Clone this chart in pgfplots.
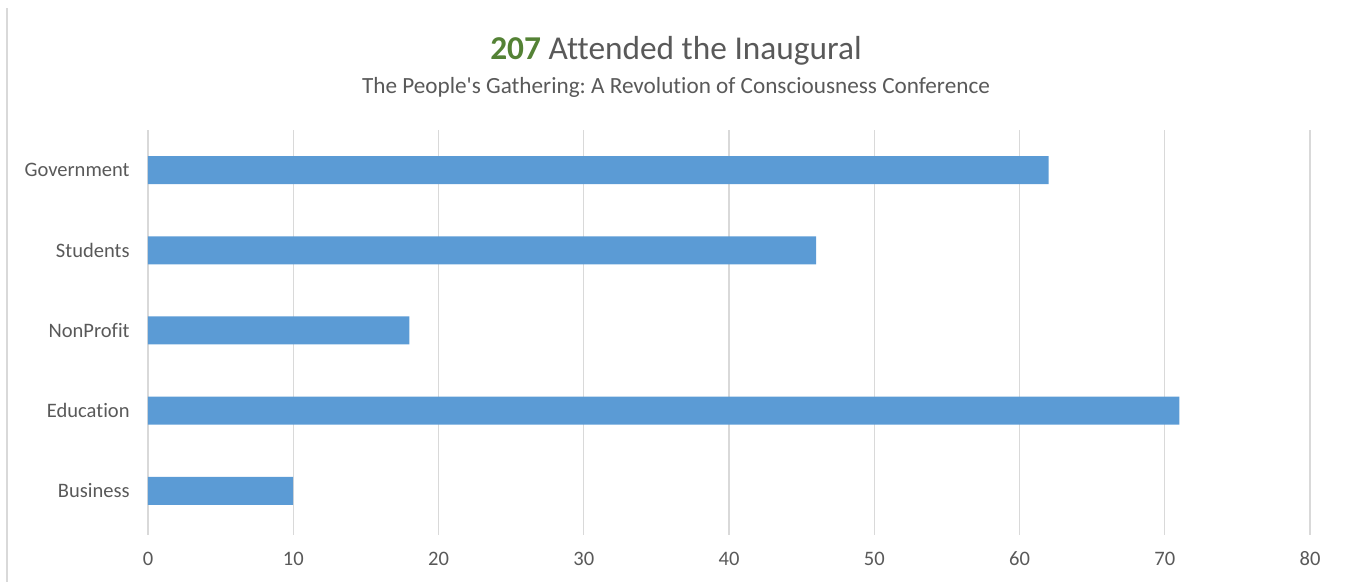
\documentclass[border=0pt]{standalone}
\usepackage{fontspec}
\setmainfont{Carlito}[Ligatures={NoCommon}]
\usepackage{pgfplots}
\pgfplotsset{compat=1.18}
\definecolor{barblue}{HTML}{5B9BD5}
\definecolor{txtgray}{HTML}{595959}
\definecolor{titlegreen}{HTML}{548235}
\definecolor{gridgray}{HTML}{D9D9D9}
\frenchspacing
\begin{document}
\begin{tikzpicture}[x=0.75pt,y=0.75pt]
\path[use as bounding box] (0,0) rectangle (1347,582);
\draw[gridgray,line width=1pt] (7,0) -- (7,574);
\node[anchor=base,font=\fontsize{25pt}{29pt}\selectfont,text=txtgray] at (676,582-60)
  {\textcolor{titlegreen}{\textbf{207}} Attended the Inaugural};
\node[anchor=base,font=\fontsize{17.4pt}{20pt}\selectfont,text=txtgray] at (676,582-94)
  {The People\textquotesingle s Gathering: A Revolution of Consciousness Conference};
\begin{axis}[
  at={(111pt,35.25pt)}, anchor=south west,
  scale only axis, width=871.5pt, height=303.75pt,
  xbar, bar width=21pt,
  xmin=0, xmax=80, ymin=-0.55, ymax=4.5,
  xtick={0,10,...,80},
  ytick={0,1,2,3,4},
  yticklabels={Business,Education,NonProfit,Students,Government},
  xmajorgrids, grid style={gridgray, line width=0.9pt},
  axis line style={draw=none},
  major tick style={draw=none},
  tick label style={font=\fontsize{15.4pt}{18pt}\selectfont, text=txtgray},
  /pgf/number format/assume math mode=true,
  xticklabel style={yshift=-9pt},
  yticklabel style={xshift=-6pt},
]
\addplot[fill=barblue, draw=none] coordinates {(10,0) (71,1) (18,2) (46,3) (62,4)};
\end{axis}
\end{tikzpicture}
\end{document}
